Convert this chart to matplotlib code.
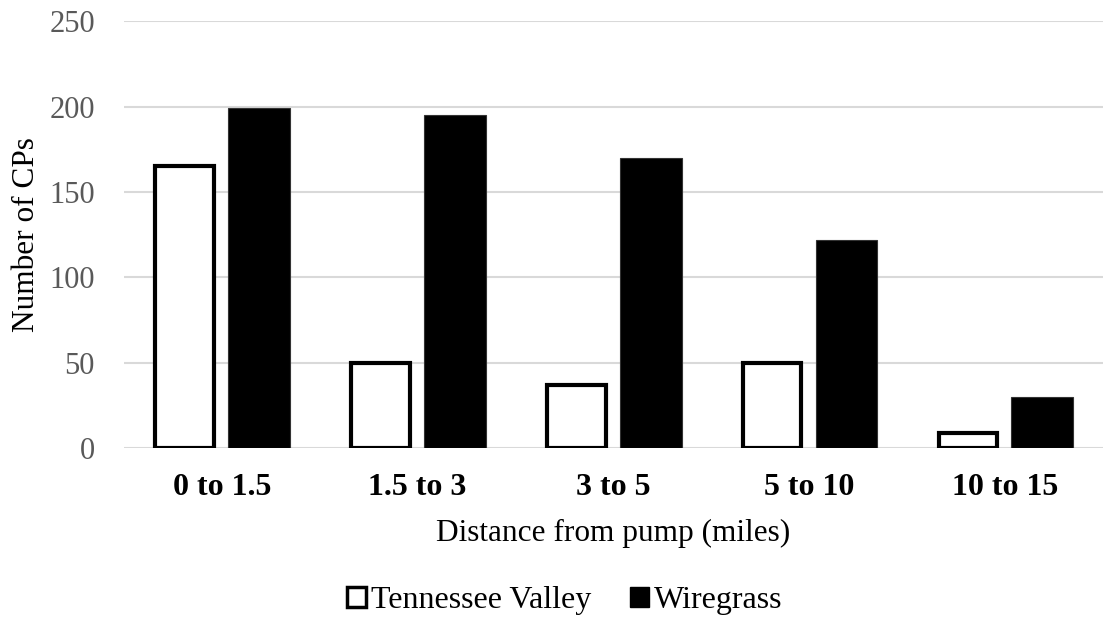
import matplotlib
matplotlib.use("Agg")
import matplotlib.pyplot as plt
import numpy as np
from matplotlib.patches import Patch

plt.rcParams['font.family'] = ['Liberation Serif', 'DejaVu Serif']

distances = ['0 to 1.5', '1.5 to 3', '3 to 5', '5 to 10', '10 to 15']
tennessee_valley = [165, 50, 37, 50, 9]
wiregrass = [199, 195, 170, 122, 30]

fig = plt.figure(figsize=(11.03, 6.24), dpi=100)
ax = fig.add_axes([0.1124, 0.282, 0.8876, 0.684])

x = np.arange(len(distances))
off = 0.19
ax.bar(x - off, tennessee_valley, width=0.30, color='white', edgecolor='black',
       linewidth=3, zorder=3)
ax.bar(x + off, wiregrass, width=0.315, color='black', edgecolor='#333333',
       linewidth=0.8, zorder=3)

ax.set_xlim(-0.5, len(distances) - 0.5)
ax.set_ylim(0, 250)
ax.set_yticks(range(0, 251, 50))
ax.yaxis.grid(True, color='#d9d9d9', linewidth=1.5)
ax.set_axisbelow(True)
for s in ax.spines.values():
    s.set_visible(False)

ax.set_xticks(x)
ax.set_xticklabels(distances, fontsize=23, fontweight='bold')
ax.tick_params(axis='x', length=0, pad=18)
ax.tick_params(axis='y', length=0, pad=21, labelsize=22, labelcolor='#595959')

ax.set_xlabel('Distance from pump (miles)', fontsize=22.5, labelpad=12)
ax.set_ylabel('Number of CPs', fontsize=22.5, labelpad=6)

handles = [Patch(facecolor='white', edgecolor='black', linewidth=2.5),
           Patch(facecolor='black', edgecolor='black')]
fig.legend(handles, ['Tennessee Valley', 'Wiregrass'], loc='center',
           bbox_to_anchor=(0.512, 0.037), ncol=2, frameon=False, fontsize=23,
           handlelength=0.6, handleheight=0.6, handletextpad=0.15,
           columnspacing=1.2)

fig.savefig('out.png', dpi=100)
